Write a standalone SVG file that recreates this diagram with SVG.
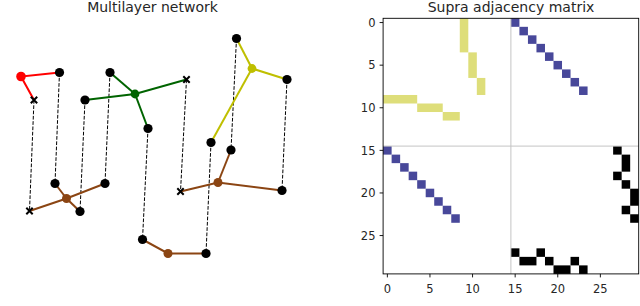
<svg xmlns="http://www.w3.org/2000/svg" width="640" height="306" viewBox="0 0 640 306">
<style>
text{font-family:"DejaVu Sans","Liberation Sans",sans-serif;fill:#262626}
.title{font-size:14px;text-anchor:middle}
.ty{font-size:11.5px;text-anchor:end}
.tx{font-size:11.5px;text-anchor:middle}
.dash{stroke:#000;stroke-width:1;stroke-dasharray:3.7 1.6;fill:none}
.node{fill:#000}
.xm{stroke:#000;stroke-width:2;fill:none}
.red{stroke:#ff0000;stroke-width:2;fill:none}
.grn{stroke:#006400;stroke-width:2;fill:none}
.yel{stroke:#bfbf00;stroke-width:2;fill:none}
.brn{stroke:#8b4513;stroke-width:2;fill:none}
.yc{fill:#dede7a}
.bc{fill:#48489a}
.kc{fill:#000}
.tick{stroke:#000;stroke-width:0.9}
</style>
<defs>
<circle id="dot" r="4.6"/>
<path id="xmark" d="M-3.2,-3.2L3.2,3.2M-3.2,3.2L3.2,-3.2"/>
</defs>
<rect width="640" height="306" fill="#fff"/>

<text class="title" x="152.5" y="12">Multilayer network</text>

<g id="connectors">
 <line class="dash" x1="34" y1="100" x2="29.5" y2="211"/>
 <line class="dash" x1="59.5" y1="72.5" x2="55" y2="183.5"/>
 <line class="dash" x1="85" y1="100" x2="80" y2="211.5"/>
 <line class="dash" x1="110" y1="72.5" x2="105" y2="183.5"/>
 <line class="dash" x1="148" y1="128.5" x2="142.5" y2="239.5"/>
 <line class="dash" x1="186.5" y1="79.5" x2="180.5" y2="191.5"/>
 <line class="dash" x1="236.5" y1="38.5" x2="231" y2="150"/>
 <line class="dash" x1="211" y1="142.5" x2="206" y2="253.5"/>
 <line class="dash" x1="287" y1="79.5" x2="282" y2="190.5"/>

 <polyline class="red" points="59.5,72.5 21,76.5 34,100"/>
 <line class="grn" x1="110" y1="72.5" x2="135" y2="94"/>
 <polyline class="grn" points="85,100 135,94 186.5,79.5"/>
 <line class="grn" x1="135" y1="94" x2="148" y2="128.5"/>
 <line class="yel" x1="252" y1="68.5" x2="236.5" y2="38.5"/>
 <line class="yel" x1="252" y1="68.5" x2="287" y2="79.5"/>
 <line class="yel" x1="252" y1="68.5" x2="211" y2="142.5"/>

 <line class="brn" x1="55" y1="183.5" x2="66.5" y2="198.5"/>
 <polyline class="brn" points="29.5,211 66.5,198.5 105,183.5"/>
 <line class="brn" x1="66.5" y1="198.5" x2="80" y2="211.5"/>
 <polyline class="brn" points="180.5,191.5 218,182.5 282,190.5"/>
 <line class="brn" x1="218" y1="182.5" x2="231" y2="150"/>
 <polyline class="brn" points="142.5,239.5 168,253.5 206,253.5"/>
</g>

<g id="n-red"><circle cx="21" cy="76.5" r="4.8" fill="#ff0000"/></g>
<g id="n-a1"><use href="#dot" class="node" x="59.5" y="72.5"/></g>
<g id="n-x1"><use href="#xmark" class="xm" x="34" y="100"/></g>
<g id="n-b1"><use href="#dot" class="node" x="110" y="72.5"/></g>
<g id="n-b2"><use href="#dot" class="node" x="85" y="100"/></g>
<g id="n-green"><circle cx="135" cy="94" r="4.4" fill="#006400"/></g>
<g id="n-x2"><use href="#xmark" class="xm" x="186.5" y="79.5"/></g>
<g id="n-b3"><use href="#dot" class="node" x="148" y="128.5"/></g>
<g id="n-yellow"><circle cx="252" cy="68.5" r="4.4" fill="#bfbf00"/></g>
<g id="n-c1"><use href="#dot" class="node" x="236.5" y="38.5"/></g>
<g id="n-c2"><use href="#dot" class="node" x="287" y="79.5"/></g>
<g id="n-c3"><use href="#dot" class="node" x="211" y="142.5"/></g>

<g id="n-d1"><use href="#dot" class="node" x="55" y="183.5"/></g>
<g id="n-br1"><circle cx="66.5" cy="198.5" r="4.5" fill="#8b4513"/></g>
<g id="n-d2"><use href="#dot" class="node" x="105" y="183.5"/></g>
<g id="n-x3"><use href="#xmark" class="xm" x="29.5" y="211"/></g>
<g id="n-d3"><use href="#dot" class="node" x="80" y="211.5"/></g>
<g id="n-x4"><use href="#xmark" class="xm" x="180.5" y="191.5"/></g>
<g id="n-br2"><circle cx="218" cy="182.5" r="4.5" fill="#8b4513"/></g>
<g id="n-d4"><use href="#dot" class="node" x="282" y="190.5"/></g>
<g id="n-d5"><use href="#dot" class="node" x="231" y="150"/></g>
<g id="n-d6"><use href="#dot" class="node" x="142.5" y="239.5"/></g>
<g id="n-br3"><circle cx="168" cy="253.5" r="4.5" fill="#8b4513"/></g>
<g id="n-d7"><use href="#dot" class="node" x="206" y="253.5"/></g>

<!-- Supra adjacency matrix -->
<text class="title" x="511" y="12">Supra adjacency matrix</text>
<g id="matrix">
 <g transform="translate(383.1,18.3) scale(8.52)">
  <rect class="yc" x="9" y="0" width="1" height="4"/>
  <rect class="yc" x="10" y="4" width="1" height="3"/>
  <rect class="yc" x="11" y="7" width="1" height="2"/>
  <rect class="yc" x="0" y="9" width="4" height="1"/>
  <rect class="yc" x="4" y="10" width="3" height="1"/>
  <rect class="yc" x="7" y="11" width="2" height="1"/>

  <rect class="bc" x="15" y="0" width="1" height="1"/>
  <rect class="bc" x="16" y="1" width="1" height="1"/>
  <rect class="bc" x="17" y="2" width="1" height="1"/>
  <rect class="bc" x="18" y="3" width="1" height="1"/>
  <rect class="bc" x="19" y="4" width="1" height="1"/>
  <rect class="bc" x="20" y="5" width="1" height="1"/>
  <rect class="bc" x="21" y="6" width="1" height="1"/>
  <rect class="bc" x="22" y="7" width="1" height="1"/>
  <rect class="bc" x="23" y="8" width="1" height="1"/>
  <rect class="bc" x="0" y="15" width="1" height="1"/>
  <rect class="bc" x="1" y="16" width="1" height="1"/>
  <rect class="bc" x="2" y="17" width="1" height="1"/>
  <rect class="bc" x="3" y="18" width="1" height="1"/>
  <rect class="bc" x="4" y="19" width="1" height="1"/>
  <rect class="bc" x="5" y="20" width="1" height="1"/>
  <rect class="bc" x="6" y="21" width="1" height="1"/>
  <rect class="bc" x="7" y="22" width="1" height="1"/>
  <rect class="bc" x="8" y="23" width="1" height="1"/>

  <rect class="kc" x="27" y="15" width="1" height="1"/>
  <rect class="kc" x="28" y="16" width="1" height="2"/>
  <rect class="kc" x="27" y="18" width="1" height="1"/>
  <rect class="kc" x="28" y="19" width="1" height="1"/>
  <rect class="kc" x="29" y="20" width="1" height="2"/>
  <rect class="kc" x="28" y="22" width="1" height="1"/>
  <rect class="kc" x="29" y="23" width="1" height="1"/>
  <rect class="kc" x="15" y="27" width="1" height="1"/>
  <rect class="kc" x="16" y="28" width="2" height="1"/>
  <rect class="kc" x="18" y="27" width="1" height="1"/>
  <rect class="kc" x="19" y="28" width="1" height="1"/>
  <rect class="kc" x="20" y="29" width="2" height="1"/>
  <rect class="kc" x="22" y="28" width="1" height="1"/>
  <rect class="kc" x="23" y="29" width="1" height="1"/>
 </g>
 <line x1="510.9" y1="18.3" x2="510.9" y2="273.9" stroke="#c4c4c4" stroke-width="1"/>
 <line x1="383.1" y1="146.1" x2="638.7" y2="146.1" stroke="#c4c4c4" stroke-width="1"/>
 <rect x="383.1" y="18.3" width="255.6" height="255.6" fill="none" stroke="#000" stroke-width="0.9"/>

 <g class="tick">
  <line x1="379.6" y1="22.56" x2="383.1" y2="22.56"/>
  <line x1="379.6" y1="65.16" x2="383.1" y2="65.16"/>
  <line x1="379.6" y1="107.76" x2="383.1" y2="107.76"/>
  <line x1="379.6" y1="150.36" x2="383.1" y2="150.36"/>
  <line x1="379.6" y1="192.96" x2="383.1" y2="192.96"/>
  <line x1="379.6" y1="235.56" x2="383.1" y2="235.56"/>
  <line x1="387.36" y1="273.9" x2="387.36" y2="277.4"/>
  <line x1="429.96" y1="273.9" x2="429.96" y2="277.4"/>
  <line x1="472.56" y1="273.9" x2="472.56" y2="277.4"/>
  <line x1="515.16" y1="273.9" x2="515.16" y2="277.4"/>
  <line x1="557.76" y1="273.9" x2="557.76" y2="277.4"/>
  <line x1="600.36" y1="273.9" x2="600.36" y2="277.4"/>
 </g>
 <text class="ty" x="375.5" y="26.8">0</text>
 <text class="ty" x="375.5" y="69.4">5</text>
 <text class="ty" x="375.5" y="112">10</text>
 <text class="ty" x="375.5" y="154.6">15</text>
 <text class="ty" x="375.5" y="197.2">20</text>
 <text class="ty" x="375.5" y="239.8">25</text>
 <text class="tx" x="387.36" y="292.5">0</text>
 <text class="tx" x="429.96" y="292.5">5</text>
 <text class="tx" x="472.56" y="292.5">10</text>
 <text class="tx" x="515.16" y="292.5">15</text>
 <text class="tx" x="557.76" y="292.5">20</text>
 <text class="tx" x="600.36" y="292.5">25</text>
</g>
</svg>
